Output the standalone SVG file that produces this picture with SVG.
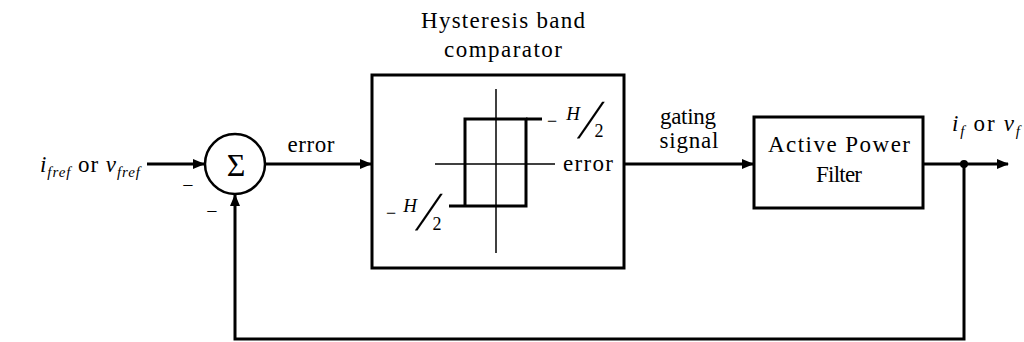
<svg xmlns="http://www.w3.org/2000/svg" width="1024" height="342" viewBox="0 0 1024 342">
<defs>
<style>
text{font-family:'Liberation Serif','Times New Roman','DejaVu Serif',serif;fill:#000}
.ln{stroke:#000;stroke-width:3;fill:none}
.thin{stroke:#000;stroke-width:1.5;fill:none}
.box{stroke:#000;stroke-width:3;fill:#fff}
</style>
<marker id="ah" viewBox="0 0 12 10" refX="11" refY="5" markerWidth="12" markerHeight="10" markerUnits="userSpaceOnUse" orient="auto">
<path d="M0,0 L12,5 L0,10 Z" fill="#000"/>
</marker>
</defs>
<rect width="1024" height="342" fill="#fff"/>

<g id="connectors">
<line class="ln" x1="147" y1="164" x2="204" y2="164" marker-end="url(#ah)"/>
<line class="ln" x1="266" y1="164" x2="371" y2="164" marker-end="url(#ah)"/>
<line class="ln" x1="625" y1="164" x2="753" y2="164" marker-end="url(#ah)"/>
<line class="ln" x1="924" y1="164" x2="1008" y2="164" marker-end="url(#ah)"/>
<polyline class="ln" points="964,164 964,339 235,339 235,195" marker-end="url(#ah)"/>
<circle cx="964" cy="164" r="4" fill="#000"/>
</g>

<g id="input-label">
<text x="40" y="172" font-size="23" textLength="100" lengthAdjust="spacing"><tspan font-style="italic">i</tspan><tspan font-style="italic" font-size="15" dy="5">fref</tspan><tspan dy="-5"> or </tspan><tspan font-style="italic">v</tspan><tspan font-style="italic" font-size="15" dy="5">fref</tspan></text>
</g>

<g id="summer">
<circle cx="235" cy="164" r="30" stroke="#000" stroke-width="2.5" fill="#fff"/>
<text x="236" y="176" font-size="32" text-anchor="middle">Σ</text>
<text x="188" y="192" font-size="20" text-anchor="middle">−</text>
<text x="212" y="218" font-size="20" text-anchor="middle">−</text>
</g>

<g id="error-label">
<text x="311" y="152" font-size="23" text-anchor="middle" textLength="47" lengthAdjust="spacing">error</text>
</g>

<g id="comparator">
<text x="503" y="28" font-size="23" text-anchor="middle" textLength="164" lengthAdjust="spacing">Hysteresis band</text>
<text x="503" y="57" font-size="23" text-anchor="middle" textLength="118" lengthAdjust="spacing">comparator</text>
<rect class="box" x="372" y="75" width="252" height="193"/>
<line class="thin" x1="496" y1="89" x2="496" y2="253"/>
<line class="thin" x1="435" y1="164" x2="555" y2="164"/>
<polyline class="ln" points="449,206 526,206 526,119 465,119 465,206"/>
<line class="ln" x1="526" y1="119" x2="542" y2="119"/>
<text x="588" y="171" font-size="23" text-anchor="middle" textLength="50" lengthAdjust="spacing">error</text>
<text x="552" y="127" font-size="18" text-anchor="middle">−</text>
<text x="573" y="120" font-size="19" font-style="italic" text-anchor="middle">H</text>
<text font-size="55" transform="translate(577,138) skewX(-19)">/</text>
<text x="599" y="137" font-size="18" text-anchor="middle">2</text>
<text x="391" y="219" font-size="18" text-anchor="middle">−</text>
<text x="410" y="212" font-size="19" font-style="italic" text-anchor="middle">H</text>
<text font-size="55" transform="translate(415,230) skewX(-19)">/</text>
<text x="437" y="230" font-size="18" text-anchor="middle">2</text>
</g>

<g id="gating-label">
<text x="688" y="124" font-size="23" text-anchor="middle" textLength="56" lengthAdjust="spacing">gating</text>
<text x="689" y="148" font-size="23" text-anchor="middle" textLength="59" lengthAdjust="spacing">signal</text>
</g>

<g id="apf">
<rect class="box" x="754" y="117" width="169" height="91"/>
<text x="839" y="152" font-size="23" text-anchor="middle" textLength="142" lengthAdjust="spacing">Active Power</text>
<text x="839" y="182" font-size="23" text-anchor="middle" textLength="46" lengthAdjust="spacing">Filter</text>
</g>

<g id="output-label">
<text x="952" y="131" font-size="23" textLength="68" lengthAdjust="spacing"><tspan font-style="italic">i</tspan><tspan font-style="italic" font-size="15" dy="5">f</tspan><tspan dy="-5"> or </tspan><tspan font-style="italic">v</tspan><tspan font-style="italic" font-size="15" dy="5">f</tspan></text>
</g>
</svg>
